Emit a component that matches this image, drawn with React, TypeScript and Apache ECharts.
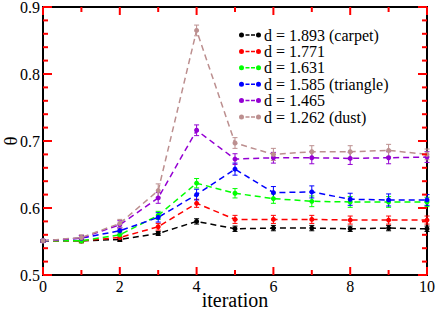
import React, { useEffect, useRef } from "react";
import * as echarts from "echarts";

const iterations = [0, 1, 2, 3, 4, 5, 6, 7, 8, 9, 10];

const seriesNames = [
  "d = 1.893 (carpet)",
  "d = 1.771",
  "d = 1.631",
  "d = 1.585 (triangle)",
  "d = 1.465",
  "d = 1.262 (dust)",
];

const seriesColors = ["#000000", "#ff0000", "#00ff00", "#0000ff", "#9400d3", "#bc8f8f"];

const carpet = [0.551, 0.551, 0.553, 0.562, 0.58, 0.569, 0.57, 0.57, 0.569, 0.57, 0.569];
const d1771 = [0.551, 0.551, 0.556, 0.572, 0.607, 0.583, 0.583, 0.583, 0.582, 0.582, 0.582];
const d1631 = [0.551, 0.551, 0.56, 0.589, 0.637, 0.622, 0.614, 0.61, 0.609, 0.609, 0.609];
const triangle = [0.551, 0.555, 0.566, 0.586, 0.62, 0.658, 0.623, 0.624, 0.613, 0.612, 0.612];
const d1465 = [0.551, 0.555, 0.575, 0.615, 0.716, 0.673, 0.675, 0.675, 0.674, 0.675, 0.676];
const dust = [0.551, 0.556, 0.577, 0.626, 0.865, 0.697, 0.68, 0.684, 0.684, 0.686, 0.68];

const carpetErr = [0.002, 0.002, 0.003, 0.003, 0.004, 0.004, 0.004, 0.004, 0.004, 0.004, 0.004];
const d1771Err = [0.002, 0.003, 0.004, 0.005, 0.006, 0.006, 0.006, 0.006, 0.006, 0.006, 0.006];
const d1631Err = [0.002, 0.003, 0.004, 0.006, 0.007, 0.007, 0.007, 0.008, 0.008, 0.008, 0.007];
const triangleErr = [0.002, 0.004, 0.005, 0.007, 0.008, 0.009, 0.009, 0.009, 0.009, 0.009, 0.008];
const d1465Err = [0.002, 0.004, 0.006, 0.008, 0.008, 0.008, 0.008, 0.009, 0.009, 0.009, 0.008];
const dustErr = [0.002, 0.004, 0.006, 0.01, 0.008, 0.008, 0.009, 0.009, 0.009, 0.009, 0.008];

const xTicks = [0, 2, 4, 6, 8, 10];
const xMinorTicks = [1, 3, 5, 7, 9];
const yTicks = [0.5, 0.6, 0.7, 0.8, 0.9];
const yMinorTicks = [
  0.52, 0.54, 0.56, 0.58, 0.62, 0.64, 0.66, 0.68, 0.72, 0.74, 0.76, 0.78, 0.82, 0.84, 0.86, 0.88,
];

const X_MIN = 0;
const X_MAX = 10;
const Y_MIN = 0.5;
const Y_MAX = 0.9;

const allValues = [carpet, d1771, d1631, triangle, d1465, dust];
const allErrors = [carpetErr, d1771Err, d1631Err, triangleErr, d1465Err, dustErr];

const FONT = "'Liberation Serif', 'Times New Roman', serif";

const LEGEND_ICON =
  "path://M0,2.5a2.5,2.5 0 1,0 5,0a2.5,2.5 0 1,0 -5,0zM6.5,1.75h4v1.5h-4zM12,1.75h4v1.5h-4zM17,2.5a2.5,2.5 0 1,0 5,0a2.5,2.5 0 1,0 -5,0z";

const TICK_COLOR = "#ff0000";

export default function App() {
  const ref = useRef<HTMLDivElement>(null);
  useEffect(() => {
    if (!ref.current) return;
    const chart = echarts.init(ref.current, null, { renderer: "svg" });

    const lineSeries = seriesNames.map((name, i) => ({
      name,
      type: "line",
      data: iterations.map((x, j) => [x, allValues[i][j]]),
      symbol: "circle",
      symbolSize: 5,
      itemStyle: { color: seriesColors[i] },
      lineStyle: { color: seriesColors[i], width: 1.5, type: [6, 4] },
      z: 3,
    }));

    const errSeries = seriesNames.map((name, i) => ({
      name: name + " err",
      type: "custom",
      itemStyle: { color: seriesColors[i] },
      data: iterations.map((x, j) => [x, allValues[i][j] - allErrors[i][j], allValues[i][j] + allErrors[i][j]]),
      renderItem: (params: any, api: any) => {
        const x = api.value(0);
        const lo = api.coord([x, api.value(1)]);
        const hi = api.coord([x, api.value(2)]);
        const w = 2.5;
        return {
          type: "group",
          children: [
            { type: "line", shape: { x1: lo[0], y1: lo[1], x2: hi[0], y2: hi[1] }, style: { stroke: seriesColors[i], lineWidth: 1 } },
            { type: "line", shape: { x1: lo[0] - w, y1: lo[1], x2: lo[0] + w, y2: lo[1] }, style: { stroke: seriesColors[i], lineWidth: 1 } },
            { type: "line", shape: { x1: hi[0] - w, y1: hi[1], x2: hi[0] + w, y2: hi[1] }, style: { stroke: seriesColors[i], lineWidth: 1 } },
          ],
        };
      },
      z: 2,
      silent: true,
    }));

    // one custom series draws all inward ticks; each datum: [x, y, dx, dy]
    const tickData: number[][] = [
      ...xTicks.map((v) => [v, Y_MIN, 0, -8]),
      ...xTicks.map((v) => [v, Y_MAX, 0, 8]),
      ...xMinorTicks.map((v) => [v, Y_MIN, 0, -5]),
      ...xMinorTicks.map((v) => [v, Y_MAX, 0, 5]),
      ...yTicks.map((v) => [X_MIN, v, 9, 0]),
      ...yTicks.map((v) => [X_MAX, v, -9, 0]),
      ...yMinorTicks.map((v) => [X_MIN, v, 5, 0]),
      ...yMinorTicks.map((v) => [X_MAX, v, -5, 0]),
    ];

    const tickSeries = {
      name: "ticks",
      type: "custom",
      itemStyle: { color: TICK_COLOR },
      data: tickData,
      encode: { x: 0, y: 1 },
      renderItem: (params: any, api: any) => {
        const p = api.coord([api.value(0), api.value(1)]);
        const dx = api.value(2);
        const dy = api.value(3);
        return {
          type: "line",
          shape: { x1: p[0], y1: p[1], x2: p[0] + dx, y2: p[1] + dy },
          style: { stroke: TICK_COLOR, lineWidth: 2 },
        };
      },
      z: 6,
    };

    const axisLine = { show: true, onZero: false, lineStyle: { color: "#000", width: 2 } };

    chart.setOption({
      animation: false,
      backgroundColor: "#fff",
      grid: { left: 43, right: 9, top: 7, bottom: 35, containLabel: false, outerBoundsMode: "none" },
      legend: {
        left: 239,
        top: 27,
        padding: 0,
        orient: "vertical",
        itemWidth: 22,
        itemHeight: 5,
        itemGap: 0.4,
        icon: LEGEND_ICON,
        data: seriesNames,
        textStyle: { fontFamily: FONT, fontSize: 16, lineHeight: 16, color: "#000", padding: [0, 0, 0, -2] },
      },
      xAxis: [
        {
          type: "value",
          min: X_MIN,
          max: X_MAX,
          interval: 2,
          name: "iteration",
          nameLocation: "middle",
          nameGap: 15,
          nameMoveOverlap: false,
          nameTextStyle: { fontFamily: FONT, fontSize: 20, color: "#000" },
          axisLine,
          axisTick: { show: false },
          minorTick: { show: false },
          axisLabel: {
            fontFamily: FONT,
            fontSize: 16,
            color: "#000",
            margin: 3,
            formatter: (v: number) => (xTicks.includes(v) ? String(v) : ""),
          },
          splitLine: { show: false },
        },
        {
          type: "value",
          position: "top",
          min: X_MIN,
          max: X_MAX,
          interval: 2,
          axisLine,
          axisTick: { show: false },
          axisLabel: { show: false },
          splitLine: { show: false },
        },
      ],
      yAxis: [
        {
          type: "value",
          min: Y_MIN,
          max: Y_MAX,
          interval: 0.1,
          name: "θ",
          nameLocation: "middle",
          nameGap: 25,
          nameMoveOverlap: false,
          nameTextStyle: { fontFamily: FONT, fontSize: 19, lineHeight: 16, color: "#000" },
          axisLine,
          axisTick: { show: false },
          minorTick: { show: false },
          axisLabel: {
            fontFamily: FONT,
            fontSize: 16,
            color: "#000",
            margin: 3,
            formatter: (v: number) => {
              const t = yTicks.find((y) => Math.abs(y - v) < 1e-6);
              return t !== undefined ? t.toFixed(1) : "";
            },
          },
          splitLine: { show: false },
        },
        {
          type: "value",
          position: "right",
          min: Y_MIN,
          max: Y_MAX,
          interval: 0.1,
          axisLine,
          axisTick: { show: false },
          axisLabel: { show: false },
          splitLine: { show: false },
        },
      ],
      series: [...lineSeries, ...errSeries, tickSeries],
    });

    return () => chart.dispose();
  }, []);

  return <div ref={ref} style={{ width: 436, height: 310, position: "absolute", left: 0, top: 0 }} />;
}
